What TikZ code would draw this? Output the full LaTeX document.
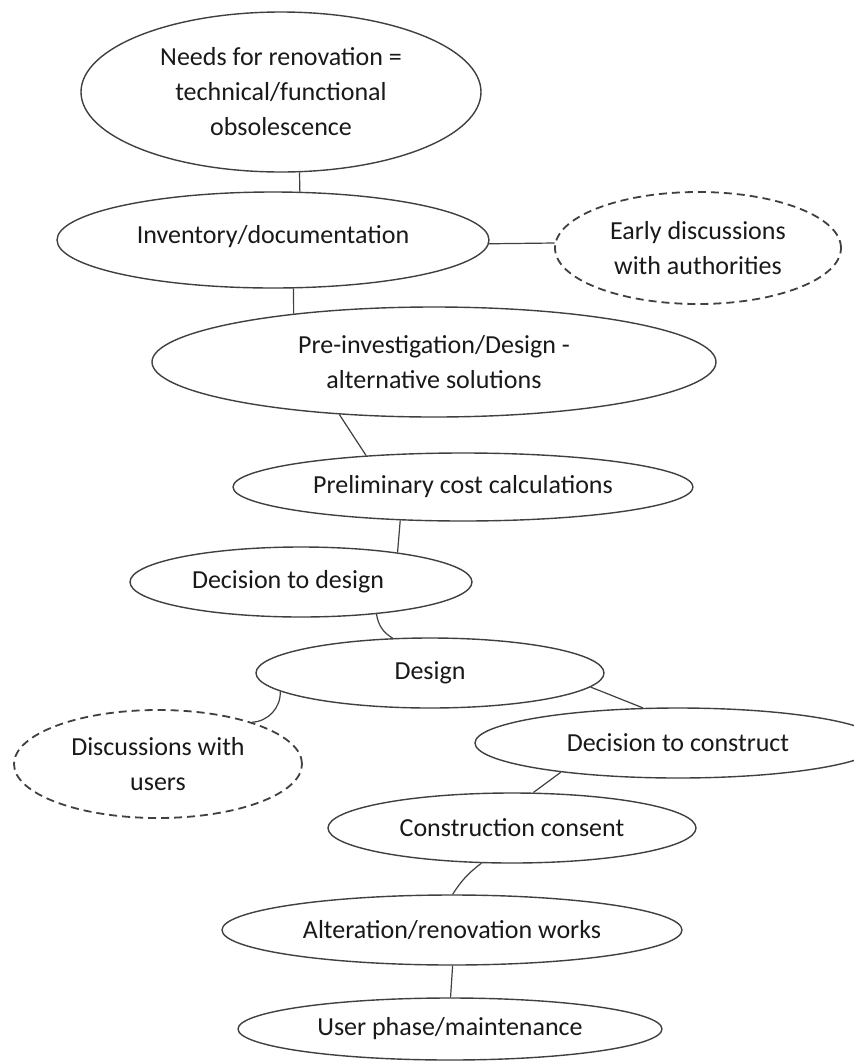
\documentclass[tikz,border=0pt]{standalone}
\usepackage{fontspec}
\setmainfont{Carlito}
\usetikzlibrary{shapes.geometric}

\begin{document}
\begin{tikzpicture}[x=0.5pt, y=-0.5pt,
    stage/.style={ellipse, draw=black!75, line width=0.7pt, inner sep=0pt,
        align=center, text=black!90, font=\fontsize{13}{17.5}\selectfont},
    aside/.style={stage, line width=0.9pt, dash pattern=on 4pt off 2.5pt},
    link/.style={draw=black!75, line width=0.6pt}]
        \clip (0,0) rectangle (854,1061);
        \fill[white] (0,0) rectangle (854,1061);

        \node[stage, minimum width=200pt, minimum height=80pt] (1) at (281,92)
            {Needs for renovation =\\technical/functional\\obsolescence};
        \node[stage, minimum width=216pt, minimum height=48pt] (2) at (273,240)
            {\raisebox{5.5pt}{Inventory/documentation}};
        \node[aside, minimum width=143pt, minimum height=56pt] (3) at (698,248)
            {Early discussions\\with authorities};
        \node[stage, minimum width=282pt, minimum height=55pt] (4) at (434,362)
            {Pre-investigation/Design -\\alternative solutions};
        \node[stage, minimum width=230pt, minimum height=34pt] (5) at (463,487)
            {Preliminary cost calculations};
        \node[stage, minimum width=171pt, minimum height=35pt] (6) at (301,582)
            {Decision to design\hspace{13pt}};
        \node[stage, minimum width=174pt, minimum height=35pt] (7) at (430,673)
            {Design};
        \node[aside, minimum width=144pt, minimum height=54pt] (8) at (158,764)
            {Discussions with\\users};
        \node[stage, minimum width=203pt, minimum height=35pt] (9) at (678,743)
            {Decision to construct};
        \node[stage, minimum width=184pt, minimum height=35pt] (10) at (512,828)
            {Construction consent};
        \node[stage, minimum width=230pt, minimum height=35pt] (11) at (452,930)
            {Alteration/renovation works};
        \node[stage, minimum width=212pt, minimum height=31pt] (12) at (450,1029)
            {User phase/maintenance};

        \draw[link] (1.-77) -- (2.61);
        \draw[link] (2.-1) -- (3.178);
        \draw[link] (2.-67) -- (4.161);
        \draw[link] (4.209) -- (5.162);
        \draw[link] (5.208) -- (6.17);
        \draw[link] (6.-23) to[bend right=25] (7.137);
        \draw[link] (7.187) to[bend left=45] (8.24);
        \draw[link] (7.-5) -- (9.135);
        \draw[link] (9.194) -- (10.59);
        \draw[link] (10.229) to[bend right=10] (11.89);
        \draw[link] (11.-89) -- (12.89);
    \end{tikzpicture}
\end{document}
